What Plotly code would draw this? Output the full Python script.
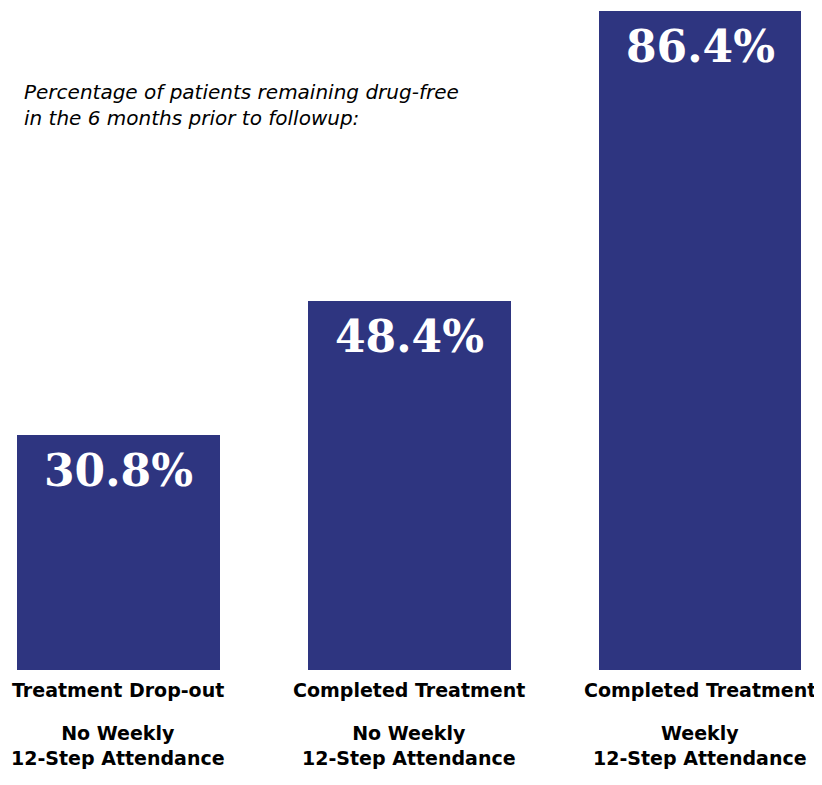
import plotly.graph_objects as go

categories = ["Treatment Drop-out", "Completed Treatment", "Completed Treatment"]
subgroups = ["No Weekly<br>12-Step Attendance", "No Weekly<br>12-Step Attendance", "Weekly<br>12-Step Attendance"]
values = [30.8, 48.4, 86.4]
value_labels = ["30.8%", "48.4%", "86.4%"]
positions = [0, 1, 2]

bar_color = "#2E3580"

fig = go.Figure()
fig.add_trace(go.Bar(
    x=positions, y=values, width=0.698,
    marker=dict(color=bar_color, line=dict(width=0)),
    hoverinfo="skip",
))

for x, v, t in zip(positions, values, value_labels):
    fig.add_annotation(
        x=x, y=v, xref="x", yref="y", text=f"<b>{t}</b>", showarrow=False,
        yanchor="top", yshift=-8,
        font=dict(family="DejaVu Serif", size=44, color="white"),
    )

for x, c, s in zip(positions, categories, subgroups):
    fig.add_annotation(
        x=x, y=0, xref="x", yref="paper", text=f"<b>{c}</b>", showarrow=False,
        yanchor="middle", yshift=-20,
        font=dict(family="DejaVu Sans", size=19, color="black"),
    )
    fig.add_annotation(
        x=x, y=0, xref="x", yref="paper", text="<b>" + s.replace("<br>", "</b><br><b>") + "</b>",
        showarrow=False, yanchor="middle", yshift=-75,
        font=dict(family="DejaVu Sans", size=19, color="black"),
    )

fig.add_annotation(
    xref="paper", yref="paper", x=14/814, y=1 - 70/662, xanchor="left", yanchor="top",
    align="left", showarrow=False,
    text="<i>Percentage of patients remaining drug-free<br>in the 6 months prior to followup:</i>",
    font=dict(family="DejaVu Sans", size=20, color="black"),
)

fig.update_layout(
    width=814, height=777,
    margin=dict(l=0, r=0, t=0, b=115),
    paper_bgcolor="white", plot_bgcolor="white",
    showlegend=False,
    bargap=0,
    xaxis=dict(range=[-0.380, 2.4196], showgrid=False, zeroline=False, showline=False,
               showticklabels=False, ticks=""),
    yaxis=dict(range=[0, 86.76], visible=False, showgrid=False, zeroline=False),
)

fig.write_html("out.html")
